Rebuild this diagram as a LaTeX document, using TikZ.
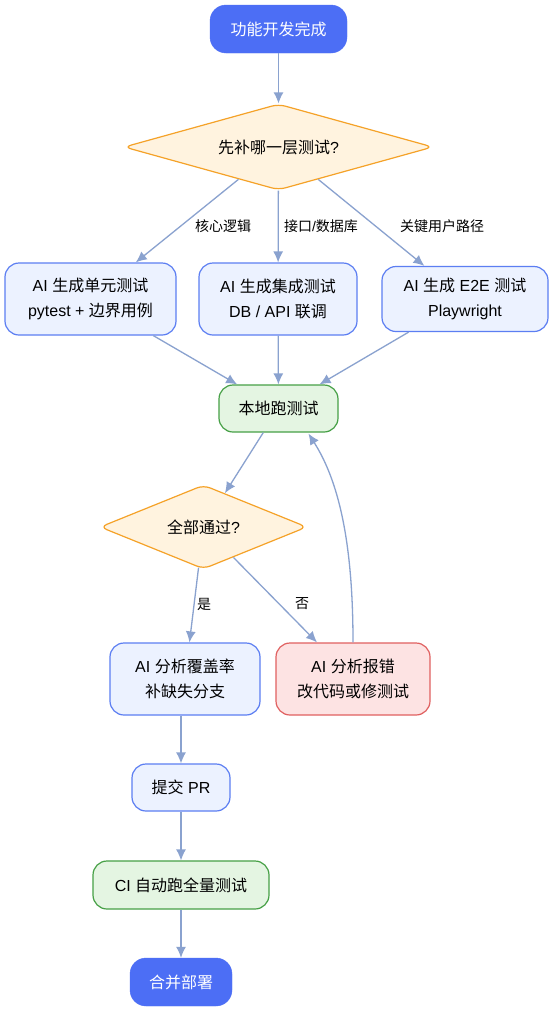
\documentclass[tikz,border=0pt]{standalone}
\usepackage{fontspec}
\setmainfont{Liberation Sans}
\newfontfamily\cjk{Noto Sans CJK SC}
\newcommand\zh[1]{{\cjk #1}}
\usetikzlibrary{shapes.geometric,arrows.meta,calc}
\definecolor{startfill}{RGB}{76,110,245}
\definecolor{bluefill}{RGB}{236,242,255}
\definecolor{bluedraw}{RGB}{92,126,242}
\definecolor{greenfill}{RGB}{228,245,226}
\definecolor{greendraw}{RGB}{70,160,70}
\definecolor{redfill}{RGB}{253,227,227}
\definecolor{reddraw}{RGB}{224,96,96}
\definecolor{decfill}{RGB}{255,243,223}
\definecolor{decdraw}{RGB}{245,162,40}
\definecolor{arrowc}{RGB}{138,162,207}
\begin{document}
\begin{tikzpicture}[x=1pt,y=-1pt,
  every node/.style={font=\fontsize{16}{25}\selectfont, align=center, inner sep=0pt},
  term/.style={rectangle, rounded corners=16pt, fill=startfill, draw=startfill, text=white, minimum height=48pt},
  bluebox/.style={rectangle, rounded corners=14pt, fill=bluefill, draw=bluedraw, line width=1.2pt},
  greenbox/.style={rectangle, rounded corners=14pt, fill=greenfill, draw=greendraw, line width=1.2pt},
  redbox/.style={rectangle, rounded corners=14pt, fill=redfill, draw=reddraw, line width=1.2pt},
  decision/.style={diamond, rounded corners=7pt, fill=decfill, draw=decdraw, line width=1.2pt},
  flow/.style={draw=arrowc, line width=1.3pt, -{Latex[length=11pt,width=10pt]}},
  lbl/.style={font=\fontsize{14}{16}\selectfont}
]
\useasboundingbox[fill=white] (0,0) rectangle (554,1012);

\node[term, minimum width=137pt] (start) at (278.5,29) {\zh{功能开发完成}};
\node[decision, aspect=3.6, minimum width=309pt, minimum height=86pt] (d1) at (278.5,147) {\zh{先补哪一层测试}?};

\node[bluebox, minimum width=171pt, minimum height=72pt] (u1) at (90.5,299) {AI \zh{生成单元测试}\\pytest + \zh{边界用例}};
\node[bluebox, minimum width=158pt, minimum height=72pt] (u2) at (278,299) {AI \zh{生成集成测试}\\DB / API \zh{联调}};
\node[bluebox, minimum width=166pt, minimum height=65pt] (u3) at (465,299) {AI \zh{生成} E2E \zh{测试}\\Playwright};

\node[greenbox, minimum width=119pt, minimum height=47pt] (local) at (278.5,408.5) {\zh{本地跑测试}};
\node[decision, aspect=2.46, minimum width=207pt, minimum height=84pt] (d2) at (203.5,527) {\zh{全部通过}?};

\node[bluebox, minimum width=150pt, minimum height=72pt] (cov) at (185,679) {AI \zh{分析覆盖率}\\\zh{补缺失分支}};
\node[redbox, minimum width=154pt, minimum height=72pt] (err) at (353,679) {AI \zh{分析报错}\\\zh{改代码或修测试}};

\node[bluebox, minimum width=98pt, minimum height=47pt] (pr) at (181,787.5) {\zh{提交} PR};
\node[greenbox, minimum width=176pt, minimum height=48pt] (ci) at (181,885) {CI \zh{自动跑全量测试}};
\node[term, minimum width=102pt] (merge) at (181,982) {\zh{合并部署}};

\draw[flow] (start) -- (d1);
\draw[flow] (d1) -- (u1);
\draw[flow] (d1) -- (u2);
\draw[flow] (d1) -- (u3);
\draw[flow] (u1) -- (local);
\draw[flow] (u2) -- (local);
\draw[flow] (u3) -- (local);
\draw[flow] (local) -- (d2);
\draw[flow] (d2) -- (cov);
\draw[flow] (d2) -- (err);
\draw[flow] (err.north) .. controls (353,540) and (338,480) .. ($(local.south)+(30,1)$);
\draw[flow] (cov.south -| pr.north) -- (pr);
\draw[flow] (pr) -- (ci);
\draw[flow] (ci) -- (merge);

\node[lbl] (l1) at (223,226) {\zh{核心逻辑}};
\node[lbl] (l2) at (321,226) {\zh{接口}/\zh{数据库}};
\node[lbl] (l3) at (442,226) {\zh{关键用户路径}};
\node[lbl] (l4) at (204,604) {\zh{是}};
\node[lbl] (l5) at (302,604) {\zh{否}};
\end{tikzpicture}
\end{document}
